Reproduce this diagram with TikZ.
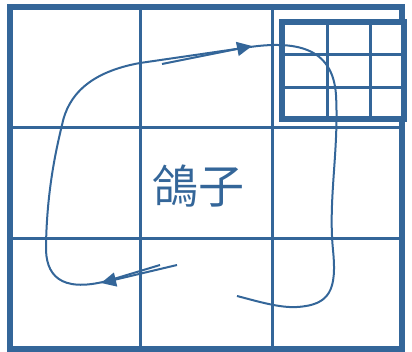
\documentclass[tikz,border=0pt]{standalone}
\usepackage{fontspec}
\newfontfamily\cjk{Noto Sans CJK TC}
\usetikzlibrary{arrows.meta}
\definecolor{pb}{RGB}{52,102,153}
\tikzset{
  frame/.style={draw=pb,line width=5.5pt},
  gridline/.style={draw=pb,line width=3pt},
  route/.style={draw=pb,line width=2pt},
  arr/.style={draw=pb,line width=2pt,-{Triangle[length=15pt,width=14pt]}},
  label/.style={text=pb,font=\cjk\fontsize{46}{46}\selectfont}
}
\begin{document}
\begin{tikzpicture}[x=1pt,y=-1pt]
\useasboundingbox (0,0) rectangle (412,352);
% big grid
\draw[gridline] (140,7) -- (140,349);
\draw[gridline] (272,7) -- (272,349);
\draw[gridline] (10,128) -- (402,128);
\draw[gridline] (10,239) -- (402,239);
\draw[frame] (10,7) rectangle (402,349);
% small grid
\fill[white] (282,22) rectangle (404,119);
\draw[gridline] (327,22) -- (327,119);
\draw[gridline] (370,22) -- (370,119);
\draw[gridline] (282,55) -- (404,55);
\draw[gridline] (282,88) -- (404,88);
\draw[frame] (282,22) rectangle (404,119);
% text
\node[label] (t) at (198,186) {鴿子};
% route
\draw[route] (160,265) -- (107,281)
  .. controls (60,293) and (45,275) .. (46,245)
  .. controls (47,190) and (56,150) .. (62,125)
  .. controls (68,95) and (90,72) .. (140,63)
  -- (250,47)
  .. controls (300,40) and (333,50) .. (336,95)
  .. controls (339,150) and (328,200) .. (333,250)
  .. controls (337,290) and (330,305) .. (297,307)
  .. controls (280,308) and (260,302) .. (237,296);
\coordinate (a1) at (162,64);
\coordinate (a2) at (252,46);
\coordinate (b1) at (177,265);
\coordinate (b2) at (101,283);
\draw[arr] (a1) -- (a2);
\draw[arr] (b1) -- (b2);
\end{tikzpicture}
\end{document}
